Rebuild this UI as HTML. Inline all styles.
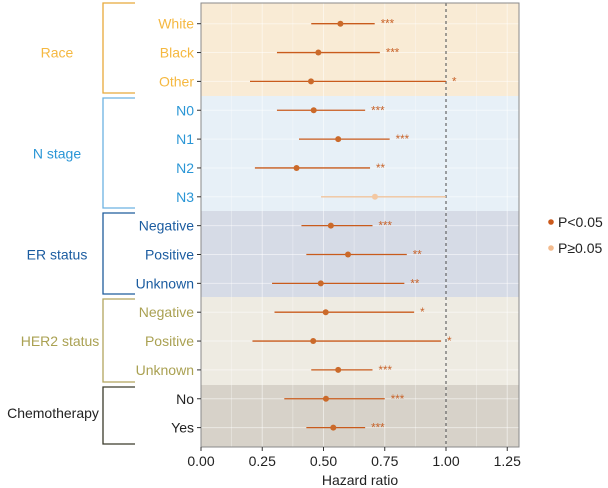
<!DOCTYPE html>
<html><head><meta charset="utf-8"><style>
html,body{margin:0;padding:0;background:#fff;}
svg{display:block;font-family:"Liberation Sans",Arial,sans-serif;}
</style></head><body>
<svg id="chart" width="608" height="488" viewBox="0 0 608 488"></svg>
<script>
const labels=["White","Black","Other","N0","N1","N2","N3","Negative","Positive","Unknown","Negative","Positive","Unknown","No","Yes"];
const hr=[0.569,0.479,0.449,0.46,0.56,0.39,0.71,0.53,0.60,0.489,0.509,0.458,0.56,0.51,0.54];
const lower=[0.45,0.31,0.20,0.31,0.40,0.22,0.49,0.41,0.43,0.29,0.30,0.21,0.45,0.34,0.43];
const upper=[0.709,0.73,1.0,0.67,0.77,0.69,1.0,0.70,0.84,0.83,0.87,0.98,0.70,0.75,0.67];
const stars=["***","***","*","***","***","**","","***","**","**","*","*","***","***","***"];
const significant=[1,1,1,1,1,1,0,1,1,1,1,1,1,1,1];
const xTicks=[0,0.25,0.5,0.75,1.0,1.25];
const xTickLabels=["0.00","0.25","0.50","0.75","1.00","1.25"];
const groupNames=["Race","N stage","ER status","HER2 status","Chemotherapy"];
const groupStart=[0,3,7,10,13];
const groupEnd=[2,6,9,12,14];

const NS="http://www.w3.org/2000/svg";
const svg=document.getElementById('chart');
const L=201,R=519,T=3,B=447;
const X=v=>L+v*245;
const Y=i=>23.7+i*28.85;
const bandBg=["#f9ebd5","#e7f0f7","#d6dbe6","#eeebe2","#d7d2c9"];
const bandCol=["#e8a93a","#6cb2e2","#1f5c9c","#b2a55e","#3a3a2a"];
const textCol=["#f5b840","#2a96d6","#1b5ca0","#aaa152","#222222"];
function el(t,a,p){const e=document.createElementNS(NS,t);for(const k in a)e.setAttribute(k,a[k]);(p||svg).appendChild(e);return e;}
const bounds=[T,96,211,297,385,B];
for(let g=0;g<5;g++){
 const r=el('rect',{x:L,y:bounds[g],width:R-L,height:bounds[g+1]-bounds[g],fill:bandBg[g]});
 
 
}
for(let v=0;v<=1.3;v+=0.125){
 const l=el('line',{x1:X(v),x2:X(v),y1:T,y2:B,stroke:'rgba(255,255,255,0.5)','stroke-width':Math.round(v*8)%2?0.6:1});
 
 
}
for(let i=0;i<labels.length;i++){
 const l=el('line',{x1:L,x2:R,y1:Y(i),y2:Y(i),stroke:'rgba(255,255,255,0.5)','stroke-width':1});
 
 
}
const ref=el('line',{x1:X(1),x2:X(1),y1:T,y2:B,stroke:'#666','stroke-width':1.2,'stroke-dasharray':'3,3'});


const bd=el('rect',{x:L,y:T,width:R-L,height:B-T,fill:'none',stroke:'#8a8a8a','stroke-width':1});


for(let i=0;i<labels.length;i++){
 const g=groupStart.findIndex((s,k)=>i>=s&&i<=groupEnd[k]);
 const lc=significant[i]?'#c95b1c':'#f1c49c';
 const pc=significant[i]?'#cb6a2a':'#f3c8a2';
 const ci=el('line',{x1:X(lower[i]),x2:X(upper[i]),y1:Y(i),y2:Y(i),stroke:lc,'stroke-width':1.3});
 
 
 const pt=el('circle',{cx:X(hr[i]),cy:Y(i),r:3,fill:pc});
 
 
 if(stars[i]){
  const s=el('text',{x:X(upper[i])+6,y:Y(i)+4,'font-size':11.5,fill:'#c8632a'});
  s.textContent=stars[i];
  
  
 }
 const t=el('text',{x:194,y:Y(i)+5,'text-anchor':'end','font-size':14,fill:textCol[g]});
 t.textContent=labels[i];
 
 
 const tk=el('line',{x1:197,x2:L,y1:Y(i),y2:Y(i),stroke:'#333','stroke-width':1});
 
 
}
for(let g=0;g<5;g++){
 const y1=bounds[g]+(g==0?0:2), y2=bounds[g+1]-3;
 const p=el('path',{d:`M135 ${y1}H103V${y2}H135`,fill:'none',stroke:bandCol[g],'stroke-width':1.3});
 
 
 const t=el('text',{x:g==4?53:(g==3?60:57),y:(Y(groupStart[g])+Y(groupEnd[g]))/2+5,'text-anchor':'middle','font-size':14,fill:textCol[g]});
 t.textContent=groupNames[g];
 
 
}
for(let k=0;k<xTicks.length;k++){
 const tk=el('line',{x1:X(xTicks[k]),x2:X(xTicks[k]),y1:B,y2:B+4,stroke:'#333'});
 
 
 const t=el('text',{x:X(xTicks[k]),y:B+19,'text-anchor':'middle','font-size':14,fill:'#222'});
 t.textContent=xTickLabels[k];
 
 
}
const xt=el('text',{x:(L+R)/2,y:485,'text-anchor':'middle','font-size':14,fill:'#222'});
xt.textContent='Hazard ratio';


const leg=[["P<0.05","#cb5a1c",222],["P≥0.05","#f3bb8e",248]];
for(const [lab,c,y] of leg){
 const d=el('circle',{cx:551,cy:y,r:2.8,fill:c});
 
 
 const t=el('text',{x:558,y:y+5,'font-size':14,fill:'#222'});
 t.textContent=lab;
 
 
}
</script>
</body></html>
